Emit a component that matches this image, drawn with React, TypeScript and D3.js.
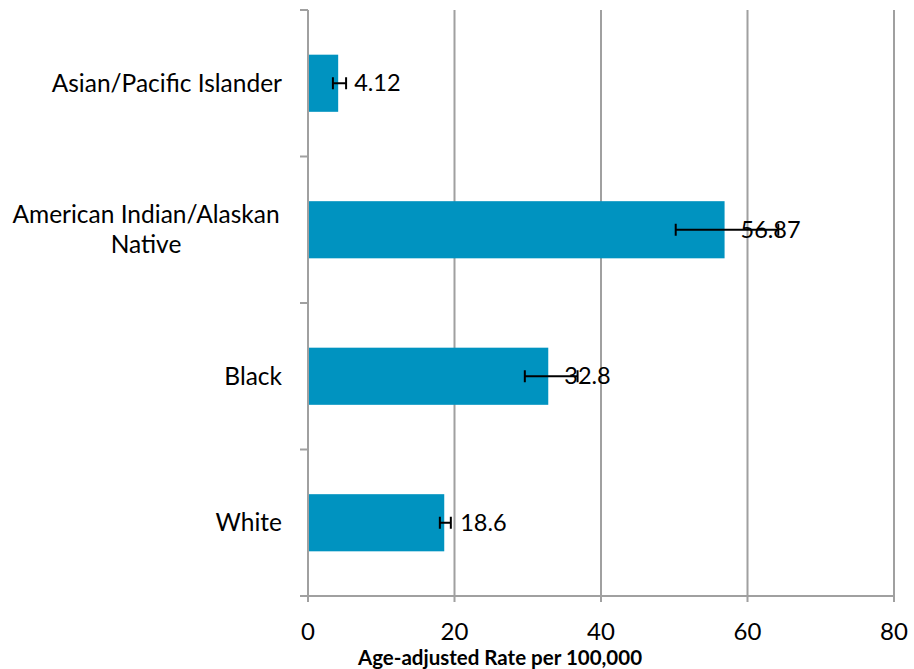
import React from "react";
import * as d3 from "d3";

const categories = ["Asian/Pacific Islander", "American Indian/Alaskan Native", "Black", "White"];
const categoryLines = [["Asian/Pacific Islander"], ["American Indian/Alaskan", "Native"], ["Black"], ["White"]];
const values = [4.12, 56.87, 32.8, 18.6];
const errLow = [3.4, 50.2, 29.6, 18.0];
const errHigh = [5.2, 64.2, 36.8, 19.5];
const xTicks = [0, 20, 40, 60, 80];
const xTitle = "Age-adjusted Rate per 100,000";

const W = 914, H = 669;
const left = 308, right = 894, top = 10, bottom = 596;
const FONT = "Lato, 'Open Sans', sans-serif";

export default function App() {
  const x = d3.scaleLinear().domain([0, 80]).range([left, right]);
  const y = d3.scaleBand().domain(categories).range([top, bottom]).paddingInner(0.61).paddingOuter(0.305);
  const band = (bottom - top) / categories.length;
  const grid = "#a0a0a0";
  return (
    <svg width={W} height={H} style={{ position: "absolute", left: 0, top: 0, background: "#fff" }}>
      {xTicks.slice(1).map((t) => (
        <line key={"g" + t} x1={x(t)} x2={x(t)} y1={top} y2={bottom + 6} stroke={grid} strokeWidth={2} />
      ))}
      {categories.map((c, i) => (
        <rect key={"b" + c} x={x(0)} y={y(c)!} width={x(values[i]) - x(0)} height={y.bandwidth()} fill="#0093c0" />
      ))}
      <line x1={left} x2={left} y1={top} y2={bottom + 6} stroke={grid} strokeWidth={2} />
      <line x1={left} x2={right} y1={bottom} y2={bottom} stroke={grid} strokeWidth={2} />
      {d3.range(categories.length + 1).map((i) => (
        <line key={"yt" + i} x1={left - 8} x2={left} y1={top + i * band} y2={top + i * band} stroke={grid} strokeWidth={2} />
      ))}
      {categories.map((c, i) => {
        const cy = y(c)! + y.bandwidth() / 2;
        return (
          <g key={"e" + c}>
            <line x1={x(errLow[i])} x2={x(errHigh[i])} y1={cy} y2={cy} stroke="#000" strokeWidth={2} />
            <line x1={x(errLow[i])} x2={x(errLow[i])} y1={cy - 6} y2={cy + 6} stroke="#000" strokeWidth={2} />
            <line x1={x(errHigh[i])} x2={x(errHigh[i])} y1={cy - 6} y2={cy + 6} stroke="#000" strokeWidth={2} />
            <text x={x(values[i]) + 16} y={cy} dy="0.35em" fontFamily={FONT} fontSize={23.5} fill="#000">
              {String(values[i])}
            </text>
          </g>
        );
      })}
      {categories.map((c, i) => {
        const cy = y(c)! + y.bandwidth() / 2;
        const lines = categoryLines[i];
        const lh = 30;
        const blockW = 272;
        return (
          <text key={"c" + c} fontFamily={FONT} fontSize={24.5} fill="#000"
            textAnchor={lines.length > 1 ? "middle" : "end"}>
            {lines.map((l, j) => (
              <tspan key={j} x={lines.length > 1 ? 282 - blockW / 2 : 282} y={cy + (j - (lines.length - 1) / 2) * lh} dy="0.35em">{l}</tspan>
            ))}
          </text>
        );
      })}
      {xTicks.map((t) => (
        <text key={"xt" + t} x={x(t)} y={632} dy="0.35em" textAnchor="middle" fontFamily={FONT} fontSize={24} fill="#000">{t}</text>
      ))}
      <text x={500} y={658} dy="0.35em" textAnchor="middle" fontFamily={FONT} fontWeight="bold" fontSize={20.5} fill="#000">{xTitle}</text>
    </svg>
  );
}
